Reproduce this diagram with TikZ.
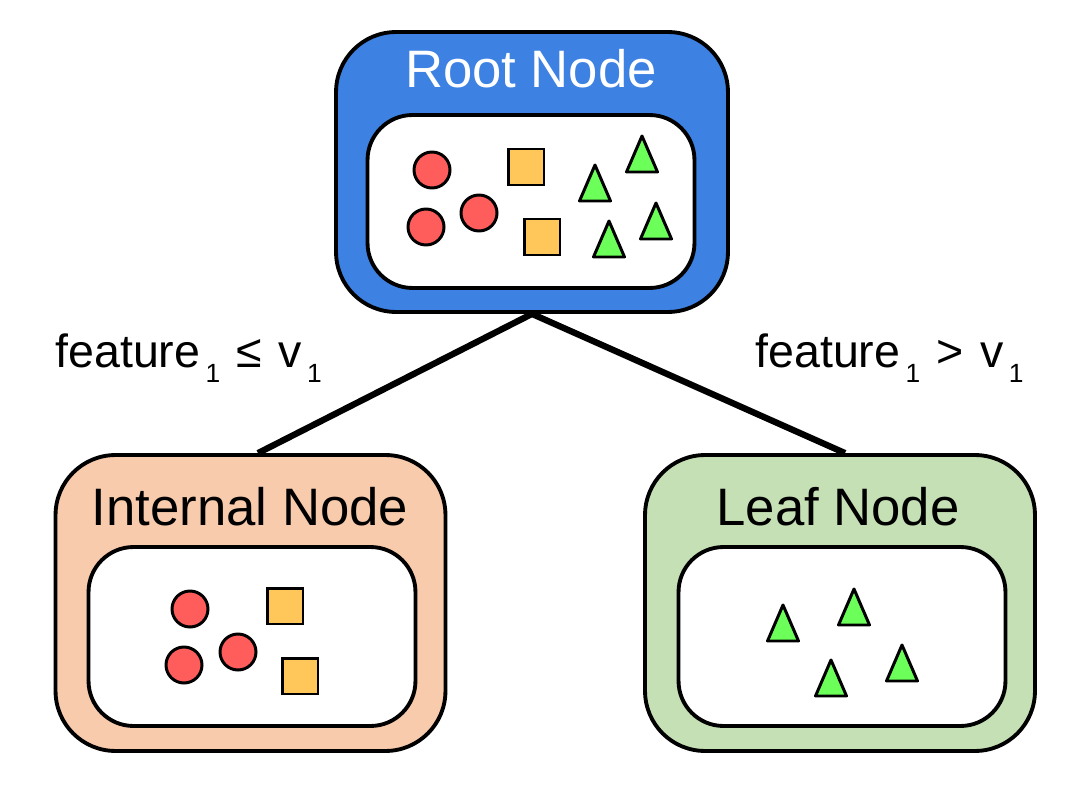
\documentclass[tikz,border=0pt]{standalone}
\usepackage{fontspec}
\setmainfont{Liberation Sans}
\usepackage{tikz}
\usetikzlibrary{positioning}
\definecolor{rootblue}{RGB}{61,129,227}
\definecolor{intpeach}{RGB}{248,203,173}
\definecolor{leafgreen}{RGB}{197,224,180}
\definecolor{dotred}{RGB}{255,92,92}
\definecolor{sqyellow}{RGB}{255,199,90}
\definecolor{trigreen}{RGB}{108,255,90}
\newcommand{\lowidx}[1]{\hspace{3pt}\raisebox{-9pt}{\fontsize{15}{15}\selectfont #1}}

\begin{document}
\begin{tikzpicture}[x=0.02cm, y=-0.02cm,
	   box/.style={draw, line width=2.2pt, rounded corners=1.2cm, minimum width=7.8cm, minimum height=5.92cm},
	   pane/.style={draw, fill=white, line width=2.2pt, rounded corners=0.9cm, minimum width=6.54cm, minimum height=3.58cm},
	   ttl/.style={anchor=base, inner sep=0, font=\fontsize{30}{30}\selectfont},
	   lbl/.style={anchor=base west, inner sep=0, font=\fontsize{26.5}{26.5}\selectfont},
	   dot/.style={circle, draw, fill=dotred, line width=1.7pt, minimum size=0.72cm, inner sep=0},
	   sq/.style={rectangle, draw, fill=sqyellow, line width=1.7pt, minimum size=0.72cm, inner sep=0},
	   tri/.style={draw, fill=trigreen, line width=1.7pt, line join=round}]
	  \useasboundingbox (0,0) rectangle (1085,797);
	  \node[box, fill=rootblue, minimum width=7.84cm, minimum height=5.6cm] (R) at (532,172) {};
	  \node[pane, minimum height=3.46cm] (Rp) at (531,201.5) {};
	  \node[ttl, text=white] (Rt) at (531,88) {Root Node};
	  \node[box, fill=intpeach] (I) at (250.5,603) {};
	  \node[pane] (Ip) at (252,636.5) {};
	  \node[ttl] (It) at (250,525) {Internal Node};
	  \node[box, fill=leafgreen] (L) at (840,603) {};
	  \node[pane] (Lp) at (842,636.5) {};
	  \node[ttl] (Lt) at (838,525) {Leaf Node};
	  \draw[line width=3.6pt] (R.south) -- ([xshift=0.15cm]I.north);
	  \draw[line width=3.6pt] (R.south) -- ([xshift=0.1cm]L.north);
	  \node[lbl] (cl) at (55,367) {feature\lowidx{1}\hspace{2pt} ≤\hspace{2pt} v\lowidx{1}};
	  \node[lbl] (cr) at (755,367) {feature\lowidx{1}\hspace{2pt} >\hspace{2pt} v\lowidx{1}};
	  \foreach \x/\y [count=\i] in {432/170, 426/227, 479/213, 190/609, 184/665, 238/652}
	    \node[dot] (c\i) at (\x,\y) {};
	  \foreach \x/\y [count=\i] in {526/167, 542/237, 285/606, 300/676}
	    \node[sq] (s\i) at (\x,\y) {};
	  \foreach \x/\y in {595/183, 642/154, 609/239, 656/221, 783/623, 854/607, 831/678, 902/663}
	    \draw[tri] (\x,\y) +(0,-18) -- +(15.5,18) -- +(-15.5,18) -- cycle;
	\end{tikzpicture}
\end{document}
